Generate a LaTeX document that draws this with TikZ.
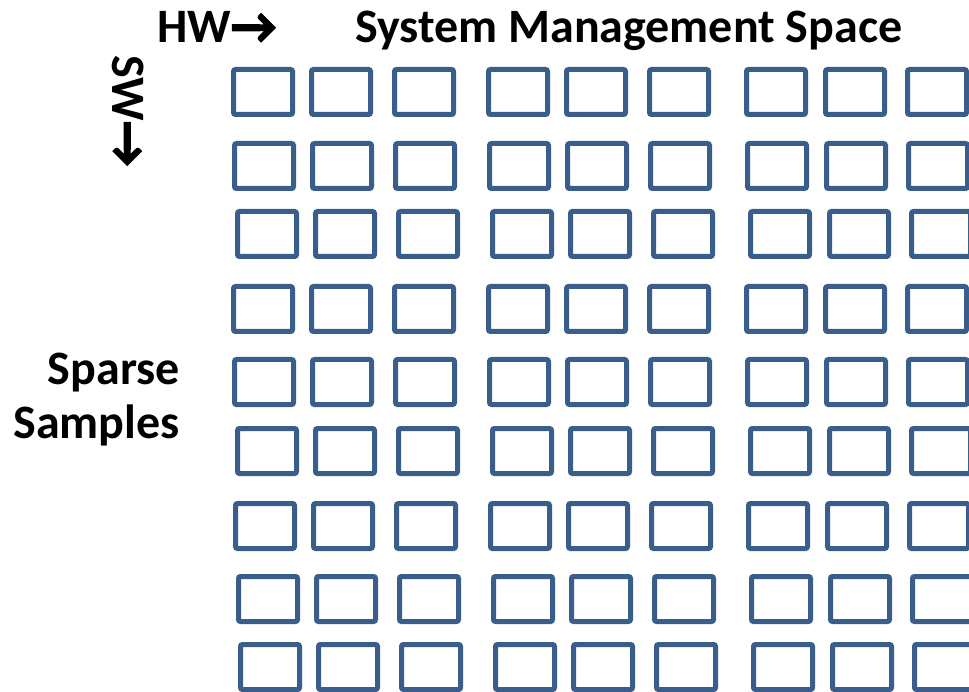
\documentclass[tikz,border=0pt]{standalone}
\usepackage{fontspec}
\setmainfont{Carlito}
\newfontfamily\arrowfont[FakeBold=3]{Carlito}
\definecolor{cellblue}{HTML}{3A5E8C}
\newcommand{\hwarrow}{{\arrowfont\fontsize{50}{54}\selectfont →}}
\tikzset{
  cell/.style={draw=cellblue, line width=5pt, rounded corners=2pt, minimum width=59pt, minimum height=45pt, inner sep=0pt},
  title/.style={font=\fontsize{48}{54}\selectfont\bfseries, inner sep=0pt}
}
\begin{document}
\begin{tikzpicture}[x=1pt, y=-1pt]
\useasboundingbox (0,0) rectangle (969,692);
% grid of samples: row top / row shift
\foreach \t/\s [count=\r] in {67/0,141/1,209/4,284/0,357/1,426/4,501/2,574/5,642/7}
  \foreach \x [count=\c] in {231,309,392,486,564,647,744,823,905}
    \node[cell] (b-\r-\c) at (\x+\s+32, \t+25) {};
\node[title, anchor=base west] (hw) at (157,43) {HW\hwarrow};
\node[title, anchor=base west] (space) at (355,43) {System Management Space};
\node[title, anchor=base west, rotate=-90] (sw) at (112,55) {SW\hwarrow};
\node[title, align=right, anchor=north east] (samples) at (180,353) {Sparse\\Samples};
\end{tikzpicture}
\end{document}
